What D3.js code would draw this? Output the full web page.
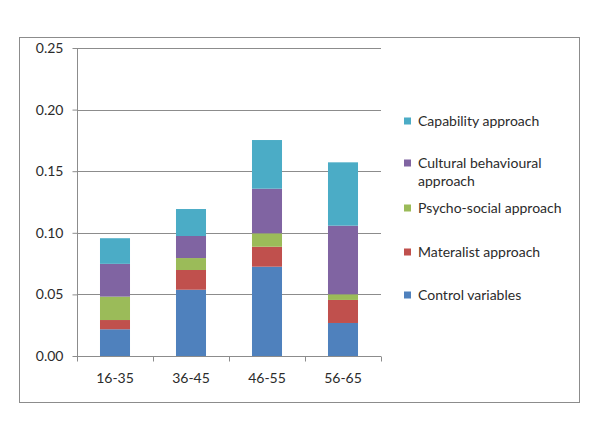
<!DOCTYPE html>
<html><head><meta charset="utf-8">
<script src="https://cdn.jsdelivr.net/npm/d3@7"></script>
<style>body{margin:0;background:#fff}svg{display:block}text{font-family:Lato,"Open Sans",sans-serif;fill:#2b2b2b}</style>
</head><body>
<script>
const categories = ["16-35","36-45","46-55","56-65"];
const seriesNames = ["Control variables","Materalist approach","Psycho-social approach","Cultural behavioural approach","Capability approach"];
const controlVariables = [0.0217,0.0538,0.0725,0.0268];
const materialist = [0.0075,0.0160,0.0162,0.0187];
const psychoSocial = [0.0190,0.0097,0.0109,0.0046];
const culturalBehavioural = [0.0266,0.0179,0.0362,0.0557];
const capability = [0.0208,0.0219,0.0395,0.0514];
const yTicks = [0,0.05,0.10,0.15,0.20,0.25];
const colors = ["#4F81BD","#C0504D","#9BBB59","#8064A2","#4BACC6"];

const seriesVals = [controlVariables, materialist, psychoSocial, culturalBehavioural, capability];
const table = categories.map((c,i)=>{const o={cat:c}; seriesNames.forEach((s,j)=>o[s]=seriesVals[j][i]); return o;});
const stack = d3.stack().keys(seriesNames)(table);

const W=600,H=435;
const svg=d3.select("body").append("svg").attr("width",W).attr("height",H);
svg.append("rect").attr("x",19.5).attr("y",37.5).attr("width",560).attr("height",365).attr("fill","#fff").attr("stroke","#8c8c8c").attr("stroke-width",1);

const x=d3.scaleBand().domain(categories).range([77,381]).paddingInner(0.605).paddingOuter(0.3025);
const y=d3.scaleLinear().domain([0,0.25]).range([356,48]);

// gridlines
svg.append("g").selectAll("line").data(yTicks.slice(1)).join("line")
  .attr("x1",77).attr("x2",381).attr("y1",d=>Math.round(y(d))+0.5).attr("y2",d=>Math.round(y(d))+0.5)
  .attr("stroke","#8c8c8c").attr("stroke-width",1);

// bars
svg.append("g").selectAll("g").data(stack).join("g").attr("fill",(d,i)=>colors[i])
  .selectAll("rect").data(d=>d).join("rect")
  .attr("x",d=>x(d.data.cat)).attr("width",x.bandwidth())
  .attr("y",d=>y(d[1])).attr("height",d=>y(d[0])-y(d[1]));

// y axis
const ya=svg.append("g").attr("transform","translate(77.5,0)").call(d3.axisLeft(y).tickValues(yTicks).tickFormat(d3.format(".2f")).tickSize(5).tickPadding(9));
ya.select(".domain").attr("stroke","#8c8c8c").attr("d","M0,48V356");
ya.selectAll(".tick line").attr("stroke","#8c8c8c");
ya.selectAll(".tick text").attr("font-size",14).attr("font-family","Lato,sans-serif").attr("fill","#2b2b2b");

// x axis
const xa=svg.append("g").attr("transform","translate(0,356.5)").call(d3.axisBottom(x).tickSize(0).tickPadding(17));
xa.select(".domain").attr("stroke","#8c8c8c").attr("d","M77,0H381");
xa.selectAll(".tick text").attr("font-size",14).attr("font-family","Lato,sans-serif").attr("fill","#2b2b2b");
xa.append("g").selectAll("line").data(d3.range(categories.length+1)).join("line")
  .attr("x1",i=>77+i*x.step()+0.5).attr("x2",i=>77+i*x.step()+0.5).attr("y1",0).attr("y2",5).attr("stroke","#8c8c8c");

// legend
const legendItems=[
  {i:4, lines:["Capability approach"], y:121},
  {i:3, lines:["Cultural behavioural","approach"], y:163},
  {i:2, lines:["Psycho-social approach"], y:208},
  {i:1, lines:["Materalist approach"], y:252},
  {i:0, lines:["Control variables"], y:295}
];
const lg=svg.append("g").selectAll("g").data(legendItems).join("g");
lg.append("rect").attr("x",404).attr("y",d=>d.y-3.5).attr("width",7).attr("height",7).attr("fill",d=>colors[d.i]);
lg.each(function(d){
  const t=d3.select(this).append("text").attr("x",418).attr("y",d.y).attr("font-size",14);
  d.lines.forEach((l,k)=>t.append("tspan").attr("x",418).attr("dy",k===0?"0.35em":"18.5px").text(l));
});
</script>
</body></html>
